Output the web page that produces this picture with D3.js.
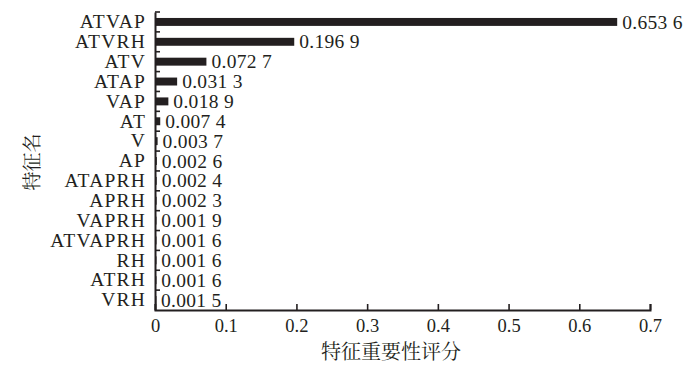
<!DOCTYPE html>
<html><head><meta charset="utf-8">
<script src="https://cdn.jsdelivr.net/npm/d3@7"></script>
<style>
body{margin:0;background:#fff;}
svg text{font-family:"Liberation Serif","Times New Roman",serif;fill:#231f20;}
</style></head>
<body><svg id="c" width="700" height="372"></svg>
<script>
const categories = ["ATVAP","ATVRH","ATV","ATAP","VAP","AT","V","AP","ATAPRH","APRH","VAPRH","ATVAPRH","RH","ATRH","VRH"];
const scores = [0.6536,0.1969,0.0727,0.0313,0.0189,0.0074,0.0037,0.0026,0.0024,0.0023,0.0019,0.0016,0.0016,0.0016,0.0015];
const scoreLabels = ["0.653 6","0.196 9","0.072 7","0.031 3","0.018 9","0.007 4","0.003 7","0.002 6","0.002 4","0.002 3","0.001 9","0.001 6","0.001 6","0.001 6","0.001 5"];
const xTicks = [0,0.1,0.2,0.3,0.4,0.5,0.6,0.7];
const xTitle = "特征重要性评分";
const yTitle = "特征名";

(function(){
const svg = d3.select("#c");
const mLeft = 155, mRight = 650, mTop = 12, mBottom = 310;
const ink = "#231f20";
const x = d3.scaleLinear().domain([0,0.7]).range([mLeft,mRight]);
const y = d3.scaleBand().domain(categories).range([mTop,mBottom]).paddingInner(0.6).paddingOuter(0.3);

// bars
svg.append("g").selectAll("rect").data(categories).join("rect")
  .attr("x", x(0)).attr("y", d=>y(d))
  .attr("width", (d,i)=>Math.max(x(scores[i])-x(0),1.5))
  .attr("height", y.bandwidth()).attr("fill", ink);

// value labels
svg.append("g").selectAll("text").data(categories).join("text")
  .attr("x",(d,i)=>x(scores[i])+5).attr("y",d=>y(d)+y.bandwidth()/2)
  .attr("dy","0.34em").attr("font-size","19.5px").attr("letter-spacing","0.3px")
  .text((d,i)=>scoreLabels[i]);

// x axis
const xa = svg.append("g").attr("transform",`translate(0,${mBottom})`)
  .call(d3.axisBottom(x).tickValues(xTicks).tickSize(-6).tickPadding(9).tickFormat(d=>d===0?"0":d3.format(".1f")(d)));
xa.select(".domain").attr("stroke",ink).attr("stroke-width",2);
xa.selectAll(".tick line").attr("stroke",ink).attr("stroke-width",1.6);
xa.selectAll("text").attr("font-size","18.5px").attr("font-family","Liberation Serif, serif").attr("fill",ink);

// y axis
const ya = svg.append("g").attr("transform",`translate(${mLeft},0)`)
  .call(d3.axisLeft(y).tickSize(0).tickPadding(9));
ya.select(".domain").attr("stroke",ink).attr("stroke-width",2);
ya.selectAll("text").attr("font-size","19.5px").attr("letter-spacing","1.2px").attr("font-family","Liberation Serif, serif").attr("fill",ink);
// boundary ticks pointing inward
const half = y.step()*y.paddingInner()/2;
svg.append("g").selectAll("line").data(categories).join("line")
  .attr("x1",mLeft).attr("x2",mLeft+5)
  .attr("y1",d=>y(d)-half).attr("y2",d=>y(d)-half)
  .attr("stroke",ink).attr("stroke-width",1.6);

// titles
svg.append("text").attr("x",391).attr("y",359).attr("text-anchor","middle")
  .attr("font-size","20px").style("font-family","'Noto Serif CJK SC','Noto Sans CJK SC',serif").text(xTitle);
svg.append("text").attr("transform","translate(39,162) rotate(-90)").attr("text-anchor","middle")
  .attr("font-size","19px").style("font-family","'Noto Serif CJK SC','Noto Sans CJK SC',serif").text(yTitle);
})();
</script></body></html>
